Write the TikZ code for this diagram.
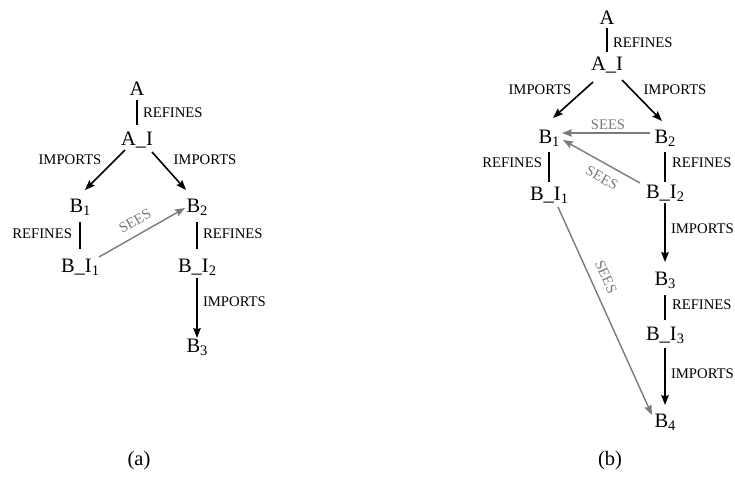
\documentclass[tikz,border=0pt]{standalone}
\usepackage{fontspec}
\setmainfont{Liberation Serif}
\usetikzlibrary{arrows.meta}
\newcommand{\sbs}[1]{\raisebox{-3.5pt}{\fontsize{14.5}{14.5}\selectfont #1}}
\definecolor{seegray}{HTML}{7A7A7A}
\tikzset{
  mod/.style={inner sep=0pt, outer sep=0pt, anchor=base, font=\fontsize{20.5}{24}\selectfont},
  lab/.style={inner sep=0pt, outer sep=0pt, font=\fontsize{14.7}{18}\selectfont},
  seelab/.style={lab, text=seegray},
  refline/.style={line width=1.7pt},
  imparrow/.style={line width=1.6pt, -{Stealth[length=10pt,width=7.5pt,inset=1.5pt]}},
  seearrow/.style={line width=1.4pt, draw=seegray, -{Stealth[length=10pt,width=7.5pt,inset=1.5pt,fill=seegray]}}
}
\begin{document}
\begin{tikzpicture}[x=1pt, y=-1pt]
\useasboundingbox (0,0) rectangle (735,477);

% ---------- (a) ----------
\node[mod] (aA)   at (137,95)  {A};
\node[mod] (aAI)  at (137,145) {A\_I};
\node[mod] (aB1)  at (80,212)  {B\sbs{1}};
\node[mod] (aB2)  at (197,212) {B\sbs{2}};
\node[mod] (aBI1) at (80,272)  {B\_I\sbs{1}};
\node[mod] (aBI2) at (197,272) {B\_I\sbs{2}};
\node[mod] (aB3)  at (197,352) {B\sbs{3}};

\draw[refline] ([shift={(0,5)}]aA.base) -- ([shift={(0,-20)}]aAI.base);
\draw[imparrow] ([shift={(-12,5)}]aAI.base) -- ([shift={(5,-22)}]aB1.base);
\draw[imparrow] ([shift={(15,7)}]aAI.base) -- ([shift={(-11,-22)}]aB2.base);
\draw[refline] ([shift={(0,10)}]aB1.base) -- ([shift={(0,-23)}]aBI1.base);
\draw[refline] ([shift={(0,10)}]aB2.base) -- ([shift={(0,-23)}]aBI2.base);
\draw[seearrow] ([shift={(19,-15)}]aBI1.base) -- ([shift={(-12,-4)}]aB2.base);
\draw[imparrow] ([shift={(0,6)}]aBI2.base) -- ([shift={(0,-14)}]aB3.base);

\node[lab, anchor=west] (aL1) at (143,113) {REFINES};
\node[lab] (aL2) at (70,160) {IMPORTS};
\node[lab] (aL3) at (205,160) {IMPORTS};
\node[lab, anchor=east] (aL4) at (72,234) {REFINES};
\node[lab, anchor=west] (aL5) at (203,234) {REFINES};
\node[seelab, rotate=29] (aL6) at (135,221) {SEES};
\node[lab, anchor=west] (aL7) at (203,302) {IMPORTS};
\node[mod, anchor=center] (acap) at (139,461) {(a)};

% ---------- (b) ----------
\node[mod] (bA)   at (607,24)  {A};
\node[mod] (bAI)  at (607,70)  {A\_I};
\node[mod] (bB1)  at (549,143) {B\sbs{1}};
\node[mod] (bB2)  at (665,143) {B\sbs{2}};
\node[mod] (bBI1) at (549,200) {B\_I\sbs{1}};
\node[mod] (bBI2) at (665,198) {B\_I\sbs{2}};
\node[mod] (bB3)  at (665,285) {B\sbs{3}};
\node[mod] (bBI3) at (665,340) {B\_I\sbs{3}};
\node[mod] (bB4)  at (665,427) {B\sbs{4}};

\draw[refline] ([shift={(0,4)}]bA.base) -- ([shift={(0,-18)}]bAI.base);
\draw[imparrow] ([shift={(-14,12)}]bAI.base) -- ([shift={(4,-25)}]bB1.base);
\draw[imparrow] ([shift={(15,10)}]bAI.base) -- ([shift={(-3,-22)}]bB2.base);
\draw[seearrow] ([shift={(-15,-10)}]bB2.base) -- ([shift={(13,-10)}]bB1.base);
\draw[refline] ([shift={(0,9)}]bB1.base) -- ([shift={(0,-18)}]bBI1.base);
\draw[refline] ([shift={(0,9)}]bB2.base) -- ([shift={(0,-16)}]bBI2.base);
\draw[seearrow] ([shift={(-25,-15)}]bBI2.base) -- ([shift={(14,-3)}]bB1.base);
\draw[imparrow] ([shift={(0,5)}]bBI2.base) -- ([shift={(0,-23)}]bB3.base);
\draw[refline] ([shift={(0,10)}]bB3.base) -- ([shift={(0,-20)}]bBI3.base);
\draw[imparrow] ([shift={(0,8)}]bBI3.base) -- ([shift={(0,-22)}]bB4.base);
\draw[seearrow] ([shift={(9,7)}]bBI1.base) -- ([shift={(-13,-12)}]bB4.base);

\node[lab, anchor=west] (bL1) at (613,43) {REFINES};
\node[lab] (bL2) at (540,90) {IMPORTS};
\node[lab] (bL3) at (675,90) {IMPORTS};
\node[seelab] (bL4) at (608,125) {SEES};
\node[lab, anchor=east] (bL5) at (542,163) {REFINES};
\node[lab, anchor=west] (bL6) at (672,163) {REFINES};
\node[seelab, rotate=-29] (bL7) at (602,178) {SEES};
\node[lab, anchor=west] (bL8) at (671,229) {IMPORTS};
\node[seelab, rotate=-65.7] (bL9) at (606,277) {SEES};
\node[lab, anchor=west] (bL10) at (672,305) {REFINES};
\node[lab, anchor=west] (bL11) at (671,374) {IMPORTS};
\node[mod, anchor=center] (bcap) at (610,461) {(b)};
\end{tikzpicture}
\end{document}
